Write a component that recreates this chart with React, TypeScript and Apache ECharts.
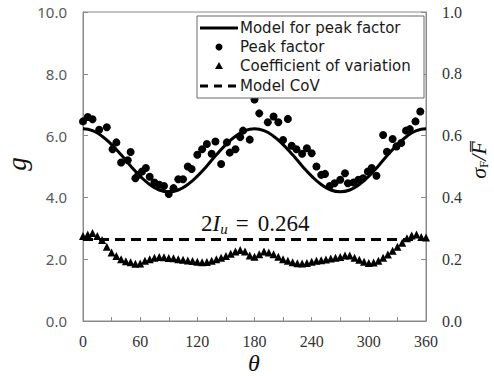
import React, { useEffect, useRef } from "react";
import * as echarts from "echarts";

// Model for peak factor, every 10 degrees
const modelTheta = [0, 10, 20, 30, 40, 50, 60, 70, 80, 90, 100, 110, 120, 130, 140, 150, 160, 170, 180, 190, 200, 210, 220, 230, 240, 250, 260, 270, 280, 290, 300, 310, 320, 330, 340, 350, 360];
const modelG = [6.22, 6.16, 5.98, 5.71, 5.38, 5.02, 4.69, 4.42, 4.24, 4.18, 4.24, 4.42, 4.69, 5.02, 5.38, 5.71, 5.98, 6.16, 6.22, 6.16, 5.98, 5.71, 5.38, 5.02, 4.69, 4.42, 4.24, 4.18, 4.24, 4.42, 4.69, 5.02, 5.38, 5.71, 5.98, 6.16, 6.22];

// Peak factor points [theta, g]
const peakTheta = [0, 5, 10, 17, 25, 31, 35, 40, 47, 50, 55, 58, 62, 66, 70, 75, 80, 85, 90, 95, 100, 105, 110, 114, 120, 125, 130, 135, 139, 145, 151, 154, 160, 165, 168, 175, 180, 185, 194, 200, 205, 210, 215, 219, 224, 230, 235, 240, 245, 250, 254, 259, 264, 270, 275, 278, 284, 289, 294, 299, 303, 308, 315, 319, 325, 329, 334, 339, 343, 349, 354];
const peakG = [6.46, 6.6, 6.53, 6.19, 6.27, 5.56, 5.78, 5.13, 5.2, 5.47, 4.62, 4.73, 4.84, 4.95, 4.67, 4.48, 4.41, 4.37, 4.11, 4.3, 4.59, 4.59, 5.0, 4.92, 5.38, 5.56, 5.73, 5.41, 5.81, 5.08, 5.78, 5.45, 5.56, 5.95, 6.16, 5.87, 7.17, 6.72, 6.43, 6.62, 6.43, 5.86, 6.54, 5.67, 5.56, 5.41, 5.59, 5.43, 5.0, 4.73, 4.76, 4.37, 4.46, 4.57, 4.78, 4.46, 4.48, 4.57, 4.62, 4.84, 4.95, 4.7, 6.02, 5.48, 5.89, 5.65, 5.76, 6.16, 6.21, 6.46, 6.78];

// Coefficient of variation, every 5 degrees
const covTheta = [0, 5, 10, 15, 20, 25, 30, 35, 40, 45, 50, 55, 60, 65, 70, 75, 80, 85, 90, 95, 100, 105, 110, 115, 120, 125, 130, 135, 140, 145, 150, 155, 160, 165, 170, 175, 180, 185, 190, 195, 200, 205, 210, 215, 220, 225, 230, 235, 240, 245, 250, 255, 260, 265, 270, 275, 280, 285, 290, 295, 300, 305, 310, 315, 320, 325, 330, 335, 340, 345, 350, 355, 360];
const covValues = [0.275, 0.28, 0.285, 0.275, 0.262, 0.24, 0.222, 0.21, 0.2, 0.193, 0.19, 0.185, 0.186, 0.195, 0.2, 0.205, 0.207, 0.206, 0.204, 0.203, 0.2, 0.198, 0.196, 0.194, 0.192, 0.19, 0.191, 0.195, 0.2, 0.205, 0.21, 0.218, 0.225, 0.23, 0.225, 0.212, 0.208, 0.216, 0.225, 0.222, 0.216, 0.208, 0.2, 0.195, 0.19, 0.187, 0.186, 0.188, 0.192, 0.195, 0.197, 0.199, 0.202, 0.205, 0.207, 0.212, 0.212, 0.205, 0.198, 0.192, 0.188, 0.189, 0.195, 0.205, 0.215, 0.227, 0.24, 0.253, 0.268, 0.277, 0.28, 0.272, 0.27];

// Model CoV (2 I_u)
const modelCovTheta = [0, 360];
const modelCovValue = 0.264;

const leftTicks = [0, 2, 4, 6, 8, 10];
const rightTicks = [0, 0.2, 0.4, 0.6, 0.8, 1.0];

const legendNames = ["Model for peak factor", "Peak factor", "Coefficient of variation", "Model CoV"];

export default function App() {
  const ref = useRef<HTMLDivElement>(null);
  useEffect(() => {
    if (!ref.current) return;
    const chart = echarts.init(ref.current, null, { renderer: "svg" });
    const axisGray = "#8a8a8a";
    const serif = "Liberation Serif";
    const sans = "Noto Sans";
    const legendX = 197;
    const legendTop = 16;
    const rowY = [28, 47, 66, 86];
    const textX = 240;
    const legendFont = { fontFamily: "DejaVu Sans", fontSize: 15, lineHeight: 17, fill: "#1a1a1a" };
    chart.setOption({
      animation: false,
      backgroundColor: "#ffffff",
      grid: {
        left: 83, right: 68, top: 12, bottom: 55,
        containLabel: false, outerBoundsMode: "none",
        show: true, borderColor: axisGray, borderWidth: 1, backgroundColor: "transparent",
      },
      xAxis: {
        type: "value",
        min: 0,
        max: 360,
        interval: 30,
        axisLine: { show: true, lineStyle: { color: axisGray, width: 1 } },
        axisTick: { show: true, inside: true, length: 4, lineStyle: { color: axisGray } },
        axisLabel: {
          margin: 12,
          fontFamily: serif,
          fontSize: 16,
          color: "#333",
          formatter: (v: number) => (v % 60 === 0 ? String(v) : ""),
        },
        splitLine: { show: false },
      },
      yAxis: [
        {
          type: "value",
          min: leftTicks[0],
          max: leftTicks[leftTicks.length - 1],
          interval: 2,
          axisLine: { show: true, lineStyle: { color: axisGray, width: 1 } },
          axisTick: { show: true, inside: true, length: 5, lineStyle: { color: axisGray } },
          axisLabel: { margin: 16, fontFamily: sans, fontSize: 15, color: "#595959", formatter: (v: number) => v.toFixed(1) },
          splitLine: { show: false },
        },
        {
          type: "value",
          position: "right",
          min: rightTicks[0],
          max: rightTicks[rightTicks.length - 1],
          interval: 0.2,
          axisLine: { show: true, lineStyle: { color: axisGray, width: 1 } },
          axisTick: { show: true, inside: true, length: 5, lineStyle: { color: axisGray } },
          axisLabel: { margin: 16, fontFamily: serif, fontSize: 16, color: "#333", formatter: (v: number) => v.toFixed(1) },
          splitLine: { show: false },
        },
      ],
      series: [
        {
          name: legendNames[0],
          type: "line",
          data: modelTheta.map((t, i) => [t, modelG[i]]),
          smooth: true,
          showSymbol: false,
          symbol: "none",
          lineStyle: { color: "#000", width: 3 },
          z: 3,
        },
        {
          name: legendNames[1],
          type: "scatter",
          data: peakTheta.map((t, i) => [t, peakG[i]]),
          symbol: "circle",
          symbolSize: 8,
          itemStyle: { color: "#000", opacity: 1 },
          z: 4,
        },
        {
          name: legendNames[2],
          type: "scatter",
          yAxisIndex: 1,
          data: covTheta.map((t, i) => [t, covValues[i]]),
          symbol: "triangle",
          symbolSize: 8,
          itemStyle: { color: "#000", opacity: 1 },
          z: 4,
        },
        {
          name: legendNames[3],
          type: "line",
          yAxisIndex: 1,
          data: modelCovTheta.map((t) => [t, modelCovValue]),
          showSymbol: false,
          symbol: "none",
          lineStyle: { color: "#000", width: 3, type: [10, 6] },
          z: 3,
        },
      ],
      graphic: [
        {
          type: "rect",
          shape: { x: legendX, y: legendTop, width: 424 - legendX, height: 82 },
          style: { fill: "#fff", stroke: "#6a6a6a", lineWidth: 1 },
          z: 10,
        },
        { type: "line", shape: { x1: 200, y1: rowY[0], x2: 238, y2: rowY[0] }, style: { stroke: "#000", lineWidth: 3 }, z: 11 },
        { type: "circle", shape: { cx: 219, cy: rowY[1], r: 3.5 }, style: { fill: "#000" }, z: 11 },
        { type: "polygon", shape: { points: [[219, rowY[2] - 4], [215, rowY[2] + 3], [223, rowY[2] + 3]] }, style: { fill: "#000" }, z: 11 },
        { type: "line", shape: { x1: 200, y1: rowY[3], x2: 238, y2: rowY[3] }, style: { stroke: "#000", lineWidth: 3, lineDash: [8, 6] }, z: 11 },
        ...legendNames.map((n, i) => ({
          type: "text",
          x: textX,
          y: rowY[i],
          style: { text: n, ...legendFont, align: "left", verticalAlign: "middle" },
          z: 11,
        })),
        {
          type: "text",
          x: 201,
          y: 223,
          style: {
            text: "{n|2}{i|I}{s|u}{e|=}{n|0.264}",
            align: "left",
            verticalAlign: "middle",
            rich: {
              n: { fontFamily: serif, fontSize: 23, fill: "#111" },
              i: { fontFamily: serif, fontSize: 23, fontStyle: "italic", fill: "#111" },
              s: { fontFamily: serif, fontSize: 15, fontStyle: "italic", fill: "#111", padding: [12, 0, 0, 0] },
              e: { fontFamily: serif, fontSize: 23, fill: "#111", padding: [0, 9, 0, 8] },
            },
          },
          z: 6,
        },
        // left axis name g
        {
          type: "text",
          x: 17,
          y: 164,
          rotation: Math.PI / 2,
          style: {
            text: "g",
            fontFamily: serif,
            fontStyle: "italic",
            fontSize: 27,
            fill: "#111",
            align: "center",
            verticalAlign: "middle",
          },
          z: 6,
        },
        // x axis name theta
        {
          type: "text",
          x: 254,
          y: 363,
          style: {
            text: "θ",
            fontFamily: serif,
            fontStyle: "italic",
            fontSize: 24,
            fill: "#111",
            align: "center",
            verticalAlign: "middle",
          },
          z: 6,
        },
        // right axis name
        {
          type: "text",
          x: 478,
          y: 160,
          rotation: Math.PI / 2,
          style: {
            text: "{a|σ}{s|F}{a|/}{a|F̅}",
            align: "center",
            verticalAlign: "middle",
            rich: {
              a: { fontFamily: serif, fontSize: 22, fontStyle: "italic", fill: "#111" },
              s: { fontFamily: serif, fontSize: 13, fill: "#111", padding: [10, 0, 0, 0] },
            },
          },
          z: 6,
        },
      ],
    });
    return () => chart.dispose();
  }, []);
  return <div ref={ref} style={{ position: "fixed", left: 0, top: 0, width: 494, height: 376, background: "#fff" }} />;
}
